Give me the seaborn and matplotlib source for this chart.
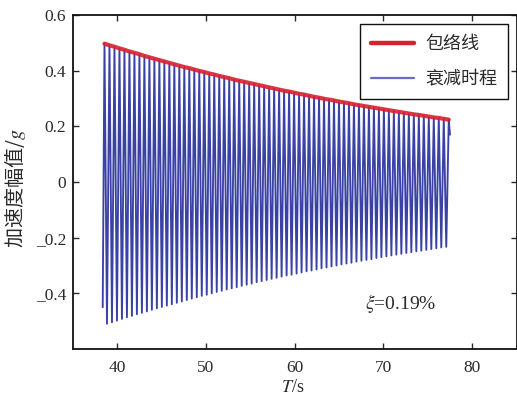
import numpy as np
import pandas as pd
import matplotlib
matplotlib.use("Agg")
import matplotlib.pyplot as plt
import seaborn as sns
from matplotlib.lines import Line2D

# ---- data ----
t_start, v_start = 38.35, -0.45          # first sample of the record
t_first_peak = 38.55                      # time of first positive peak (s)
period = 0.5625                           # oscillation period (s)
peak_values = [
    0.497, 0.491, 0.486, 0.480, 0.475, 0.469, 0.464, 0.459, 0.453, 0.448,
    0.443, 0.438, 0.433, 0.428, 0.423, 0.418, 0.413, 0.409, 0.404, 0.399,
    0.395, 0.390, 0.386, 0.381, 0.377, 0.373, 0.368, 0.364, 0.360, 0.356,
    0.352, 0.348, 0.344, 0.340, 0.336, 0.332, 0.328, 0.325, 0.321, 0.317,
    0.314, 0.310, 0.306, 0.303, 0.299, 0.296, 0.293, 0.289, 0.286, 0.283,
    0.279, 0.276, 0.273, 0.270, 0.267, 0.264, 0.261, 0.258, 0.255, 0.252,
    0.249, 0.246, 0.243, 0.241, 0.238, 0.235, 0.232, 0.230, 0.227, 0.224,
]
trough_values = [
    -0.509, -0.504, -0.498, -0.492, -0.486, -0.481, -0.475, -0.470, -0.465, -0.459,
    -0.454, -0.449, -0.444, -0.439, -0.434, -0.429, -0.424, -0.419, -0.414, -0.409,
    -0.405, -0.400, -0.395, -0.391, -0.386, -0.382, -0.378, -0.373, -0.369, -0.365,
    -0.360, -0.356, -0.352, -0.348, -0.344, -0.340, -0.336, -0.333, -0.329, -0.325,
    -0.321, -0.318, -0.314, -0.310, -0.307, -0.303, -0.300, -0.296, -0.293, -0.290,
    -0.286, -0.283, -0.280, -0.277, -0.273, -0.270, -0.267, -0.264, -0.261, -0.258,
    -0.255, -0.252, -0.249, -0.247, -0.244, -0.241, -0.238, -0.235, -0.233,
]
t_end, v_end = 77.5, 0.17
x_ticks = [40, 50, 60, 70, 80]
y_ticks = [-0.4, -0.2, 0, 0.2, 0.4, 0.6]
y_ticklabels = ["_0.4", "_0.2", "0", "0.2", "0.4", "0.6"]
legend_labels = ["包络线", "衰减时程"]
annotation = r"$\xi$=0.19%"

# ---- build series ----
peak_t = [t_first_peak + i * period for i in range(len(peak_values))]
trough_t = [p + period / 2 for p in peak_t[:len(trough_values)]]
sig_t = [t_start]
sig_v = [v_start]
for i, (pt, pv) in enumerate(zip(peak_t, peak_values)):
    sig_t.append(pt); sig_v.append(pv)
    if i < len(trough_values):
        sig_t.append(trough_t[i]); sig_v.append(trough_values[i])
sig_t.append(t_end); sig_v.append(v_end)
sig_df = pd.DataFrame({"t": sig_t, "a": sig_v})
env_df = pd.DataFrame({"t": peak_t, "a": peak_values})

# ---- style ----
sns.set_theme(style="ticks")
plt.rcParams["font.family"] = ["Liberation Serif", "Noto Sans CJK SC"]
plt.rcParams["mathtext.fontset"] = "stix"

fig = plt.figure(figsize=(5.17, 3.98), dpi=100)
ax = fig.add_axes([73 / 517, 1 - 349 / 398, 443.5 / 517, 334 / 398])

blue = "#3b42a6"
red = "#d9202e"
txt = "#2a2a2a"
sns.lineplot(data=sig_df, x="t", y="a", ax=ax, color=blue, lw=1.35,
             sort=False, estimator=None)
sns.lineplot(data=env_df, x="t", y="a", ax=ax, color=red, lw=3.0,
             sort=False, estimator=None, alpha=0.9)

ax.set_xlim(35, 85)
ax.set_ylim(-0.6, 0.6)
ax.set_xticks(x_ticks)
ax.set_xticklabels([str(v) for v in x_ticks])
ax.set_yticks(y_ticks)
ax.set_yticklabels(y_ticklabels)
ax.tick_params(direction="in", top=True, right=True, length=4, width=1,
               labelsize=12.5, colors=txt)
ax.tick_params(axis="x", pad=8)
ax.tick_params(axis="y", pad=5)
for s in ax.spines.values():
    s.set_visible(True)
    s.set_linewidth(1.3)
    s.set_color("#111111")

ax.set_xlabel("$T$/s", fontsize=13, color=txt)
ax.xaxis.set_label_coords((293 - 73) / 443.5, (349 - 387) / 334)
ax.xaxis.label.set_verticalalignment("center")
ax.set_ylabel("加速度幅值/$g$", fontsize=14.5, color=txt,
              family=["Noto Sans CJK SC", "Liberation Serif"])
ax.yaxis.set_label_coords((15 - 73) / 443.5, (349 - 188) / 334)
ax.yaxis.label.set_verticalalignment("center")

ax.text(72.0, -0.435, annotation, fontsize=14, ha="center", va="center",
        color=txt)

handles = [Line2D([0], [0], color=red, lw=3.2),
           Line2D([0], [0], color="#6a6cc4", lw=1.6)]
leg = ax.legend(handles, legend_labels, loc="upper right",
                bbox_to_anchor=((508 - 73) / 443.5, (349 - 24) / 334),
                borderaxespad=0, frameon=True, fancybox=False,
                edgecolor="#111111", framealpha=1, handlelength=2.4,
                borderpad=0.6, labelspacing=0.95, handletextpad=0.6,
                prop={"family": ["Noto Sans CJK SC"], "size": 13})
leg.get_frame().set_linewidth(1.0)
for t in leg.get_texts():
    t.set_color(txt)

fig.savefig("out.png", dpi=100)
